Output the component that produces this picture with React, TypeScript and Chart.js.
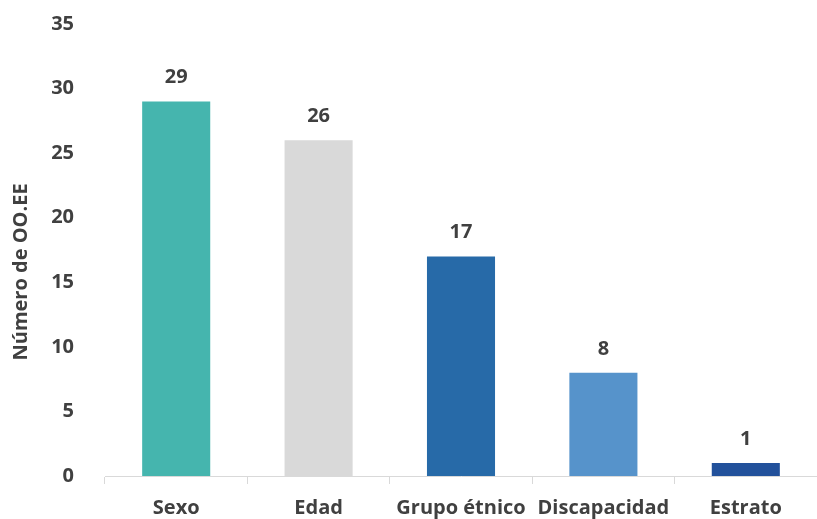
import React, { useEffect, useRef } from "react";
import { Chart, registerables } from "chart.js";

Chart.register(...registerables);

const categories = ["Sexo", "Edad", "Grupo étnico", "Discapacidad", "Estrato"];
const values = [29, 26, 17, 8, 1];
const barColors = ["#45B5AE", "#D9D9D9", "#276AA8", "#5693CB", "#22519B"];
const yTitle = "Número de OO.EE";

const FONT = "'Open Sans', 'Noto Sans', sans-serif";
const TEXT = "#404040";

const dataLabels = {
  id: "dataLabels",
  afterDatasetsDraw(chart: any) {
    const ctx = chart.ctx;
    const meta = chart.getDatasetMeta(0);
    ctx.save();
    ctx.font = `bold 20px ${FONT}`;
    ctx.fillStyle = TEXT;
    ctx.textAlign = "center";
    ctx.textBaseline = "alphabetic";
    meta.data.forEach((bar: any, i: number) => {
      ctx.fillText(String(chart.data.datasets[0].data[i]), bar.x, bar.y - 18);
    });
    // y-axis title, placed as in the reference (slightly below the plot centre)
    const yScale = chart.scales.y;
    ctx.translate(21, yScale.getPixelForValue(15.8));
    ctx.rotate(-Math.PI / 2);
    ctx.textBaseline = "middle";
    ctx.fillText(yTitle, 0, 0);
    ctx.restore();
  },
};

export default function App() {
  const ref = useRef<HTMLCanvasElement | null>(null);
  useEffect(() => {
    document.body.style.margin = "0";
    const chart = new Chart(ref.current as HTMLCanvasElement, {
      type: "bar",
      data: {
        labels: categories,
        datasets: [
          {
            data: values,
            backgroundColor: barColors,
            categoryPercentage: 1,
            barPercentage: 0.478,
          },
        ],
      },
      options: {
        animation: false,
        responsive: false,
        layout: { padding: { top: 24, right: 0, left: 0, bottom: 0 } },
        plugins: { legend: { display: false }, tooltip: { enabled: false } },
        scales: {
          x: {
            grid: {
              display: true,
              drawOnChartArea: false,
              drawTicks: true,
              tickLength: 8,
              color: "#D9D9D9",
              offset: true,
            },
            border: { display: true, color: "#D9D9D9" },
            ticks: {
              color: TEXT,
              font: { family: FONT, size: 20, weight: "bold" },
              padding: 12,
              maxRotation: 0,
              autoSkip: false,
            },
            afterFit: (s: any) => {
              s.height = 43;
            },
          },
          y: {
            min: 0,
            max: 35,
            grid: { display: false },
            border: { display: false },
            ticks: {
              stepSize: 5,
              color: TEXT,
              font: { family: FONT, size: 20, weight: "bold" },
              padding: 23,
            },
            title: { display: false },
            afterFit: (s: any) => {
              s.width = 105;
              s.paddingTop = 0;
              s.paddingBottom = 0;
            },
          },
        },
      },
      plugins: [dataLabels],
    });
    return () => chart.destroy();
  }, []);
  return (
    <div style={{ width: 817, height: 519 }}>
      <canvas ref={ref} width={817} height={519} style={{ display: "block" }} />
    </div>
  );
}
